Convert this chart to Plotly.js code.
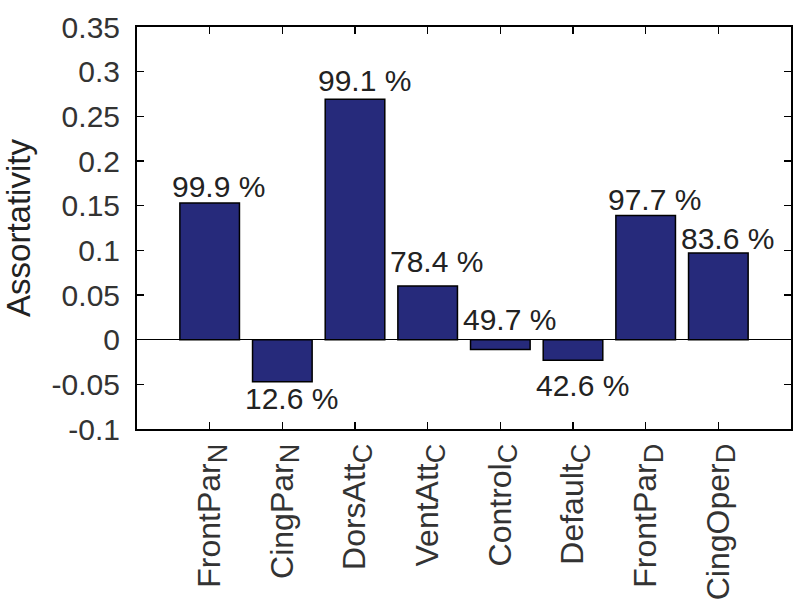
<!DOCTYPE html>
<html>
<head>
<meta charset="utf-8">
<script src="https://cdn.plot.ly/plotly-3.0.1.min.js"></script>
<style>
  html, body { margin: 0; padding: 0; background: #fff; }
  #plot { width: 800px; height: 605px; }
</style>
</head>
<body>
<div id="plot"></div>
<script>
// networks (name + subscript)
var names = ['FrontPar', 'CingPar', 'DorsAtt', 'VentAtt', 'Control', 'Default', 'FrontPar', 'CingOper'];
var subs = ['N', 'N', 'C', 'C', 'C', 'C', 'D', 'D'];

// assortativity per network
var assortativity = [0.153, -0.047, 0.269, 0.060, -0.011, -0.023, 0.139, 0.097];

// percentage labels and where they sit
var pctLabels = ['99.9 %', '12.6 %', '99.1 %', '78.4 %', '49.7 %', '42.6 %', '97.7 %', '83.6 %'];
var labelY = [0.171, -0.066, 0.290, 0.0875, 0.0225, -0.051, 0.157, 0.113];

var yTicks = [0.35, 0.3, 0.25, 0.2, 0.15, 0.1, 0.05, 0, -0.05, -0.1];
var yTickText = ['0.35', '0.3', '0.25', '0.2', '0.15', '0.1', '0.05', '0', '-0.05', '-0.1'];

// subscript drawn nearly full size, like the original figure
var cats = names.map(function (n, i) {
    return n + '<sub><span style="font-size:27px">' + subs[i] + '</span></sub>';
});

var trace = {
    x: cats,
    y: assortativity,
    type: 'bar',
    width: 0.82,
    marker: { color: '#262a7b', line: { color: '#000', width: 1.5 } },
    hoverinfo: 'none'
};

var annotations = pctLabels.map(function (t, i) {
    return {
        x: cats[i], y: labelY[i], text: t, showarrow: false,
        xshift: 9,
        font: { family: 'Liberation Sans, Arial, sans-serif', size: 30, color: '#222' }
    };
});

var layout = {
    width: 800,
    height: 605,
    margin: { l: 137, r: 9, t: 27, b: 176 },
    paper_bgcolor: '#fff',
    plot_bgcolor: '#fff',
    showlegend: false,
    font: { family: 'Liberation Sans, Arial, sans-serif', color: '#222' },
    xaxis: {
        type: 'category',
        range: [-1, 8],
        tickangle: -90,
        ticks: 'inside',
        ticklen: 7,
        tickwidth: 1.5,
        tickcolor: '#000',
        showline: true,
        linecolor: '#000',
        linewidth: 2,
        mirror: 'allticks',
        showgrid: false,
        tickfont: { size: 32, color: '#333' }
    },
    yaxis: {
        range: [-0.1, 0.35],
        tickvals: yTicks,
        ticktext: yTickText,
        ticks: 'inside',
        ticklen: 7,
        tickwidth: 1.5,
        tickcolor: '#000',
        ticklabelstandoff: 9,
        showline: true,
        linecolor: '#000',
        linewidth: 2,
        mirror: 'allticks',
        showgrid: false,
        zeroline: true,
        zerolinecolor: '#000',
        zerolinewidth: 1.5,
        tickfont: { size: 30, color: '#333' },
        title: { text: 'Assortativity', font: { size: 33, color: '#222' }, standoff: 14 }
    },
    annotations: annotations
};

Plotly.newPlot('plot', [trace], layout, { displayModeBar: false, staticPlot: true });
</script>
</body>
</html>
